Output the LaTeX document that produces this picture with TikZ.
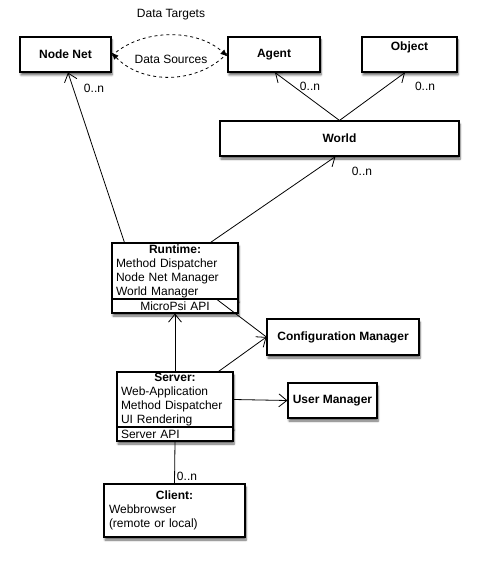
\documentclass[tikz,border=0pt]{standalone}
\usepackage{fontspec}
\setmainfont{Liberation Sans}
\usetikzlibrary{arrows.meta, shadows.blur}

\tikzset{
  box/.style={draw, line width=1.1pt, fill=white, inner sep=0pt,
    blur shadow={shadow xshift=1pt, shadow yshift=-3pt, shadow blur steps=6, shadow opacity=60}},
  title/.style={box, font=\fontsize{12}{14}\selectfont\bfseries},
  part/.style={box, font=\fontsize{12}{14}\selectfont, align=left, inner xsep=4pt},
  lbl/.style={font=\fontsize{12}{14}\selectfont, inner sep=0pt},
  assoc/.style={line width=0.8pt, -{Straight Barb[length=8pt, width=13pt]}},
  flow/.style={line width=0.8pt, dashed, -{Latex[length=7pt, width=6pt]}}
}
\newcommand{\parttitle}[2]{\makebox[#1]{\bfseries #2}}

\begin{document}
\begin{tikzpicture}[x=1pt,y=-1pt]
\useasboundingbox (0,0) rectangle (478,561);

% top row
\node[title, minimum width=91pt, minimum height=35pt] (nodenet) at (65.5,54.5) {Node Net};
\node[title, minimum width=92pt, minimum height=35pt] (agent) at (274,54.5) {Agent};
\node[title, minimum width=95pt, minimum height=35pt, text depth=16pt] (object) at (409.5,54.5) {Object};
\node[title, minimum width=239pt, minimum height=35pt] (world) at (339.5,138.5) {World};

% runtime
\node[part, text width=118pt, minimum height=56pt] (runtime) at (175,271)
  {\parttitle{118pt}{Runtime:}\\Method Dispatcher\\Node Net Manager\\World Manager};
\node[part, text width=118pt, minimum height=14pt, align=center] (runtimeapi) at (175,306) {MicroPsi API};

\node[title, minimum width=152pt, minimum height=36pt] (config) at (343,337) {Configuration Manager};

% server
\node[part, text width=108pt, minimum height=55pt] (server) at (175,399.5)
  {\parttitle{108pt}{Server:}\\Web-Application\\Method Dispatcher\\UI Rendering};
\node[part, text width=108pt, minimum height=14pt] (serverapi) at (175,434) {Server API};

\node[title, minimum width=89pt, minimum height=35pt] (usermgr) at (332.5,400.5) {User Manager};

% client
\node[part, text width=131pt, inner xsep=5pt, minimum height=53pt] (client) at (174.5,510.5)
  {\parttitle{131pt}{Client:}\\Webbrowser\\(remote or local)};

% data flow
\draw[flow] ([yshift=-1.5]nodenet.east) .. controls +(30,-28) and +(-30,-28) .. ([yshift=-2]agent.west);
\draw[flow] ([yshift=1.5]agent.west) .. controls +(-30,32) and +(30,32) .. ([yshift=2]nodenet.east);
\node[lbl] (dtargets) at (171,15) {Data Targets};
\node[lbl] (dsources) at (171,59) {Data Sources};

% associations
\draw[assoc] ([xshift=13]runtime.north west) -- ([xshift=2.5]nodenet.south);
\draw[assoc] ([xshift=-28]runtime.north east) -- ([xshift=-4]world.south);
\draw[assoc] (world.north) -- ([xshift=1]agent.south);
\draw[assoc] (world.north) -- ([xshift=-4.5]object.south);
\draw[assoc] (server.north) -- (runtimeapi.south);
\draw[assoc] ([xshift=-15]server.north east) -- (config.west);
\draw[line width=0.8pt] ([xshift=-23]runtimeapi.north east) -- (config.west);
\draw[assoc] (server.east) -- (usermgr.west);
\draw[line width=0.8pt] (serverapi.south) -- (client.north);

% multiplicities
\node[lbl] (mnet) at (94,88) {0..n};
\node[lbl] (magent) at (310,86) {0..n};
\node[lbl] (mobject) at (425,86) {0..n};
\node[lbl] (mworld) at (362,171) {0..n};
\node[lbl] (mclient) at (187,476) {0..n};
\end{tikzpicture}
\end{document}
